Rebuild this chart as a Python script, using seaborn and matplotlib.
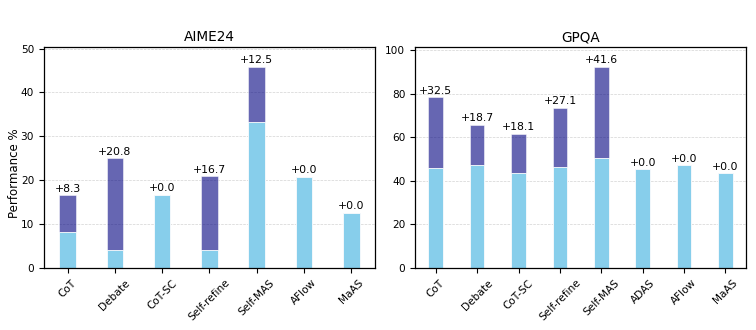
import numpy as np
import pandas as pd
import matplotlib
matplotlib.use("Agg")
import matplotlib.pyplot as plt
import seaborn as sns

# AIME24 data
aime_methods = ["CoT", "Debate", "CoT-SC", "Self-refine", "Self-MAS", "AFlow", "MaAS"]
aime_base = [8.3, 4.2, 16.7, 4.2, 33.3, 20.8, 12.5]
aime_gain = [8.3, 20.8, 0.0, 16.7, 12.5, 0.0, 0.0]

# GPQA data
gpqa_methods = ["CoT", "Debate", "CoT-SC", "Self-refine", "Self-MAS", "ADAS", "AFlow", "MaAS"]
gpqa_base = [45.8, 47.0, 43.4, 46.4, 50.6, 45.2, 47.0, 43.4]
gpqa_gain = [32.5, 18.7, 18.1, 27.1, 41.6, 0.0, 0.0, 0.0]

sns.set_style("ticks", {"text.color": "black", "axes.labelcolor": "black",
                        "xtick.color": "black", "ytick.color": "black"})
plt.rcParams["font.family"] = ["DejaVu Sans"]

fig, axes = plt.subplots(1, 2, figsize=(7.56, 3.3), dpi=100)


def draw(ax, methods, base, gain, title):
    df = pd.DataFrame({"method": methods, "base": base, "gain": gain})
    df["total"] = df["base"] + df["gain"]
    # total bar first, the base bar is drawn over it
    sns.barplot(data=df, x="method", y="total", ax=ax, width=0.35,
                color="navy", alpha=0.6, saturation=1,
                edgecolor="white", linewidth=0.6)
    sns.barplot(data=df, x="method", y="base", ax=ax, width=0.35,
                color="skyblue", saturation=1,
                edgecolor="white", linewidth=0.6)
    top = df["total"].max()
    for i, row in df.iterrows():
        ax.text(i, row["total"] + top * 0.008, f"+{row['gain']:.1f}",
                ha="center", va="bottom", fontsize=7.8, color="black")
    ax.set_ylim(0, top * 1.1)
    ax.set_title(title, fontsize=9.8, pad=4, color="black")
    ax.set_xlabel("")
    ax.set_ylabel("")
    ax.tick_params(axis="x", rotation=45, labelsize=7.6)
    ax.tick_params(axis="y", labelsize=7.6)
    ax.yaxis.grid(True, linestyle="--", linewidth=0.5, color="lightgray")
    ax.set_axisbelow(True)
    for s in ax.spines.values():
        s.set_visible(True)
        s.set_color("black")
        s.set_linewidth(0.9)


draw(axes[0], aime_methods, aime_base, aime_gain, "AIME24")
draw(axes[1], gpqa_methods, gpqa_base, gpqa_gain, "GPQA")
axes[0].set_ylabel("Performance %", fontsize=8.5)
axes[0].yaxis.set_label_coords(-0.07, 0.43)

plt.subplots_adjust(left=0.058, right=0.987, top=0.858, bottom=0.188, wspace=0.121)
plt.savefig("out.png", dpi=100)
